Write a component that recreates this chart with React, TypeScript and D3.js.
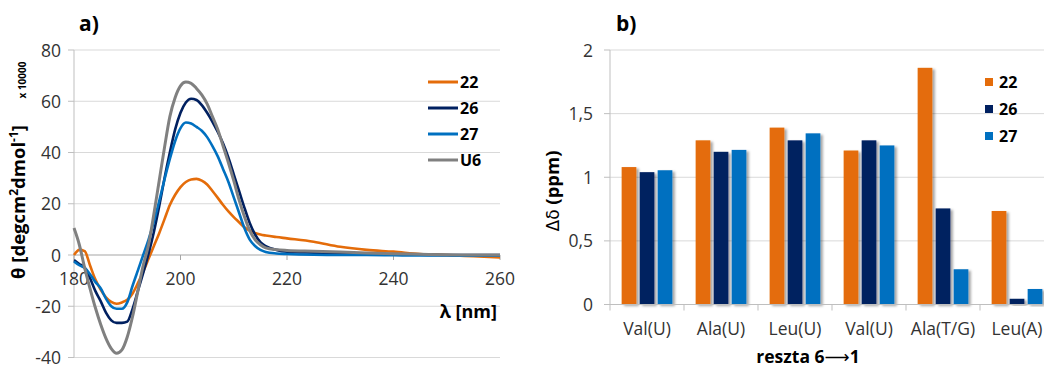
import React from "react";
import * as d3 from "d3";

// ---------- Panel a) CD spectra ----------
const wavelengths = [180,181,182,183,184,185,186,187,188,189,190,191,192,193,194,195,196,197,198,199,200,201,202,203,204,205,206,207,208,209,210,211,212,213,214,215,216,218,220,225,230,235,240,245,250,255,260];
const s22 = [0,2,1.5,-4,-9.5,-13.5,-16.5,-18.3,-19,-18.5,-17.5,-15,-11,-6.5,-1.5,3.5,8.5,14,19.5,23.5,26.5,28.5,29.5,29.7,29,27.5,25,22.3,19.5,17,14.8,12.8,10.8,9.5,8.6,8,7.6,7,6.5,5.2,3.2,2,1.3,0.4,0,-0.5,-1];
const s26 = [-2,-3.5,-5,-9,-14,-18,-22.5,-25.5,-26.5,-26.5,-26,-21,-14,-7,0.5,9,19,30,40,49,55.5,59.5,61,60.5,58.5,55.5,52,48,43.5,38,31.5,25,18.5,12.5,8,5,3.5,2,1.3,0.9,0.6,0.4,0.2,0.1,0,0,0];
const s27 = [-2.5,-4,-5,-7.5,-10.5,-13,-17,-20,-21,-21,-18.5,-12,-6,0,6,13,21,29.5,37.5,44.5,49.5,51.7,51.3,50,48.5,46,42.5,38.5,33.5,28.5,22.5,16.5,10.5,6,3.5,2,1.2,0.6,0.4,0.1,0,0,-0.1,-0.2,-0.2,-0.3,-0.3];
const sU6 = [10.5,4,-5,-13,-20.5,-27,-32.5,-36.5,-38.3,-37,-32,-24,-14,-4,4,16,29,42,54,61.5,66,67.5,67,65,62.5,59,54,49,42.5,36,29,21.5,15,9.5,6,4,2.8,2.1,1.8,1.5,1.2,0.8,0.5,0.3,0.1,0,0];
const lineNames = ["22", "26", "27", "U6"];
const lineSeries = [s22, s26, s27, sU6];
const xTicksA = [180, 200, 220, 240, 260];
const yTicksA = [-40, -20, 0, 20, 40, 60, 80];

// ---------- Panel b) bar chart ----------
const categories = ["Val(U)", "Ala(U)", "Leu(U)", "Val(U)", "Ala(T/G)", "Leu(A)"];
const v22 = [1.08, 1.29, 1.39, 1.21, 1.86, 0.735];
const v26 = [1.04, 1.2, 1.29, 1.29, 0.755, 0.045];
const v27 = [1.055, 1.215, 1.345, 1.25, 0.277, 0.122];
const barNames = ["22", "26", "27"];
const barSeries = [v22, v26, v27];
const yTicksB = [0, 0.5, 1, 1.5, 2];
const yTickLabelsB = ["0", "0,5", "1", "1,5", "2"];

const lineColors = ["#E46C0A", "#002060", "#0070C0", "#808080"];
const barColors = ["#E46C0A", "#002060", "#0070C0"];
const FONT = "'Open Sans', 'Noto Sans', sans-serif";

export default function App() {
  // scales panel a
  const xA = d3.scaleLinear().domain([180, 260]).range([74, 500]);
  const yA = d3.scaleLinear().domain([-40, 80]).range([357.5, 50]);
  const line = d3
    .line<number>()
    .x((_, i) => xA(wavelengths[i]))
    .y((d) => yA(d))
    .curve(d3.curveMonotoneX);

  // scales panel b
  const idx = categories.map((_, i) => String(i));
  const xB = d3.scaleBand().domain(idx).range([610, 1054]).paddingInner(0).paddingOuter(0);
  const xInner = d3.scaleBand().domain(barNames).range([0, xB.bandwidth()]).paddingInner(0.183).paddingOuter(0.647);
  const yB = d3.scaleLinear().domain([0, 2]).range([304.5, 50]);

  const gridColor = "#d9d9d9";
  const axisColor = "#bfbfbf";
  const tickText = "#333";
  const TF = 17.5;

  return (
    <svg
      width={1044}
      height={369}
      style={{ position: "absolute", left: 0, top: 0, background: "#fff" }}
      fontFamily={FONT}
    >
      <defs>
        <filter id="shadow" x="-20%" y="-5%" width="160%" height="115%">
          <feDropShadow dx="2.5" dy="1.5" stdDeviation="1.3" floodColor="#000" floodOpacity="0.35" />
        </filter>
      </defs>

      {/* ================= panel a ================= */}
      <text x={79} y={31} fontSize={21} fontWeight="bold" fill="#000">a)</text>
      {yTicksA.filter((t) => t !== 0).map((t) => (
        <line key={"ga" + t} x1={xA(180)} x2={xA(260)} y1={yA(t)} y2={yA(t)} stroke={gridColor} strokeWidth={1} />
      ))}
      {/* y axis */}
      <line x1={xA(180)} x2={xA(180)} y1={yA(80)} y2={yA(-40)} stroke={axisColor} strokeWidth={1} />
      {yTicksA.map((t) => (
        <g key={"ya" + t}>
          <line x1={xA(180) - 6} x2={xA(180)} y1={yA(t)} y2={yA(t)} stroke={axisColor} />
          <text x={61} y={yA(t) + 6.5} fontSize={TF} textAnchor="end" fill={tickText}>{t}</text>
        </g>
      ))}
      {/* zero axis */}
      <line x1={xA(180)} x2={xA(260)} y1={yA(0)} y2={yA(0)} stroke="#a6a6a6" strokeWidth={1.2} />
      {xTicksA.map((t) => (
        <g key={"xa" + t}>
          <line x1={xA(t)} x2={xA(t)} y1={yA(0)} y2={yA(0) + 5} stroke="#a6a6a6" />
          <text x={xA(t)} y={285} fontSize={TF} textAnchor="middle" fill={tickText}>{t}</text>
        </g>
      ))}
      {lineSeries.map((s, i) => (
        <path key={"l" + i} d={line(s) || ""} fill="none" stroke={lineColors[i]} strokeWidth={i === 3 ? 3 : 2.6} strokeLinejoin="round" />
      ))}
      {/* axis titles */}
      <text transform="translate(25,202) rotate(-90)" fontSize={18.5} fontWeight="bold" textAnchor="middle" fill="#000">
        θ [degcm<tspan fontSize={12} dy={-7}>2</tspan><tspan dy={7}>dmol</tspan><tspan fontSize={12} dy={-7}>-1</tspan><tspan dy={7}>]</tspan>
      </text>
      <text transform="translate(26,80) rotate(-90)" fontSize={10} fontWeight="bold" textAnchor="middle" fill="#000">x 10000</text>
      <text x={497} y={318} fontSize={18} fontWeight="bold" textAnchor="end" fill="#000">λ [nm]</text>
      {/* legend a */}
      {lineNames.map((n, i) => (
        <g key={"lga" + i}>
          <line x1={428} x2={458} y1={82 + i * 26} y2={82 + i * 26} stroke={lineColors[i]} strokeWidth={3} />
          <text x={460} y={82 + i * 26 + 6} fontSize={16} fontWeight="bold" fill="#000">{n}</text>
        </g>
      ))}

      {/* ================= panel b ================= */}
      <text x={616} y={31} fontSize={21} fontWeight="bold" fill="#000">b)</text>
      {yTicksB.filter((t) => t !== 0).map((t) => (
        <line key={"gb" + t} x1={610} x2={1054} y1={yB(t)} y2={yB(t)} stroke={gridColor} strokeWidth={1} />
      ))}
      <line x1={610} x2={610} y1={yB(2)} y2={yB(0)} stroke={axisColor} />
      {yTicksB.map((t, i) => (
        <g key={"yb" + t}>
          <line x1={604} x2={610} y1={yB(t)} y2={yB(t)} stroke={axisColor} />
          <text x={593} y={yB(t) + 6.5} fontSize={TF} textAnchor="end" fill={tickText}>{yTickLabelsB[i]}</text>
        </g>
      ))}
      {categories.map((c, ci) => (
        <g key={"cat" + ci}>
          {barSeries.map((s, si) => (
            <rect
              key={"b" + si}
              x={(xB(String(ci)) || 0) + (xInner(barNames[si]) || 0)}
              y={yB(s[ci])}
              width={xInner.bandwidth()}
              height={yB(0) - yB(s[ci])}
              fill={barColors[si]}
              filter="url(#shadow)"
            />
          ))}
        </g>
      ))}
      <line x1={604} x2={1054} y1={yB(0)} y2={yB(0)} stroke={axisColor} />
      {categories.map((c, ci) => (
        <g key={"xb" + ci}>
          <line x1={xB(String(ci))} x2={xB(String(ci))} y1={yB(0)} y2={yB(0) + 6} stroke={axisColor} />
          <text x={(xB(String(ci)) || 0) + xB.bandwidth() / 2} y={335} fontSize={TF} textAnchor="middle" fill={tickText}>{c}</text>
        </g>
      ))}
      <text transform="translate(559,191) rotate(-90)" fontSize={18.5} textAnchor="middle" fill="#000">
        <tspan fontFamily="'DejaVu Sans', sans-serif" fontSize={17}>Δδ</tspan> <tspan fontWeight="bold">(ppm)</tspan>
      </text>
      <text x={808} y={363} fontSize={17.5} fontWeight="bold" textAnchor="middle" fill="#000">
        reszta 6<tspan fontFamily="'DejaVu Sans', sans-serif" fontWeight="normal">⟶</tspan>1
      </text>
      {/* legend b */}
      {barNames.map((n, i) => (
        <g key={"lgb" + i}>
          <rect x={985} y={78 + i * 27} width={8} height={8} fill={barColors[i]} />
          <text x={999} y={82 + i * 27 + 6} fontSize={16} fontWeight="bold" fill="#000">{n}</text>
        </g>
      ))}
    </svg>
  );
}
